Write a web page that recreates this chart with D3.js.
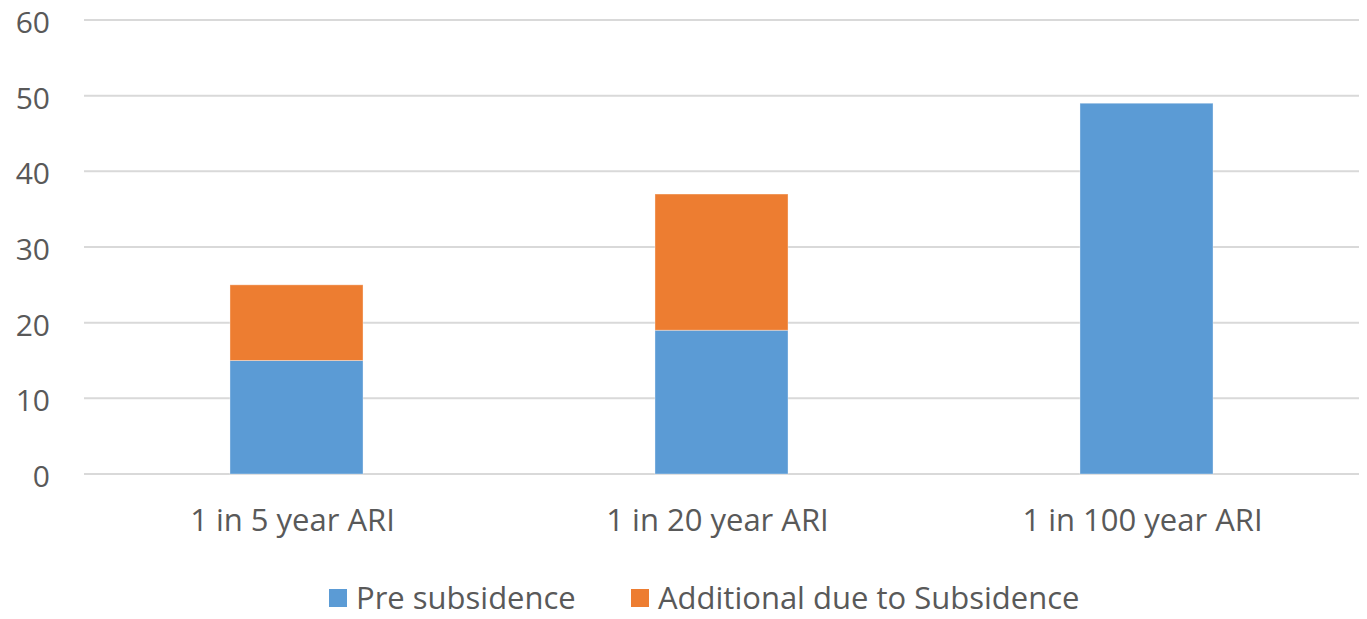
<!DOCTYPE html>
<html><head><meta charset="utf-8">
<script src="https://cdn.jsdelivr.net/npm/d3@7"></script>
<style>body{margin:0;background:#fff}svg{display:block}</style>
</head><body>
<svg id="chart" width="1367" height="619"></svg>
<script>
const categories = ["1 in 5 year ARI", "1 in 20 year ARI", "1 in 100 year ARI"];
const preSubsidence = [15, 19, 49];
const additionalSubsidence = [10, 18, 0];
const seriesNames = ["Pre subsidence", "Additional due to Subsidence"];
const seriesColors = ["#5b9bd5", "#ed7d31"];
const yTicks = [0, 10, 20, 30, 40, 50, 60];

(function () {
const svg = d3.select("#chart");
const font = "'Open Sans', sans-serif";
const plotLeft = 84, plotRight = 1359, plotTop = 20, plotBottom = 474;

const x = d3.scaleBand().domain(categories).range([plotLeft, plotRight]).paddingInner(0.687).paddingOuter(0.3435);
const y = d3.scaleLinear().domain([0, 60]).range([plotBottom, plotTop]);

const rows = categories.map((c, i) => ({cat: c, pre: preSubsidence[i], add: additionalSubsidence[i]}));
const stacked = d3.stack().keys(["pre", "add"])(rows);

// gridlines
svg.append("g").selectAll("line").data(yTicks).join("line")
  .attr("x1", plotLeft).attr("x2", plotRight)
  .attr("y1", d => y(d)).attr("y2", d => y(d))
  .attr("stroke", "#d9d9d9").attr("stroke-width", 2);

// y axis labels
const yAxis = d3.axisLeft(y).tickValues(yTicks).tickSize(0).tickPadding(0);
const yg = svg.append("g").attr("transform", `translate(50,0)`).call(yAxis);
yg.select(".domain").remove();
yg.selectAll("text").attr("font-family", font).attr("font-size", 30).attr("fill", "#595959")
  .attr("text-anchor", "end").attr("dy", "0.42em");

// bars
svg.append("g").selectAll("g").data(stacked).join("g")
  .attr("fill", (d, i) => seriesColors[i])
  .selectAll("rect").data(d => d.filter(p => p[1] - p[0] > 0)).join("rect")
  .attr("x", d => x(d.data.cat)).attr("width", x.bandwidth())
  .attr("y", d => y(d[1])).attr("height", d => y(d[0]) - y(d[1]))
  .attr("stroke", "#ffffff").attr("stroke-opacity", 0.35).attr("stroke-width", 1);

// x axis labels
const xAxis = d3.axisBottom(x).tickSize(0).tickPadding(0);
const xg = svg.append("g").attr("transform", `translate(-4,${plotBottom + 35})`).call(xAxis);
xg.select(".domain").remove();
xg.selectAll("text").attr("font-family", font).attr("font-size", 31).attr("fill", "#595959");

// legend
const legendX = [329, 631];
const lg = svg.append("g").selectAll("g").data(seriesNames).join("g")
  .attr("transform", (d, i) => `translate(${legendX[i]},589)`);
lg.append("rect").attr("width", 18).attr("height", 18).attr("fill", (d, i) => seriesColors[i]);
lg.append("text").attr("x", 27).attr("y", 9).attr("dy", "0.35em")
  .attr("font-family", font).attr("font-size", 31).attr("fill", "#595959").text(d => d);
})();
</script>
</body></html>
